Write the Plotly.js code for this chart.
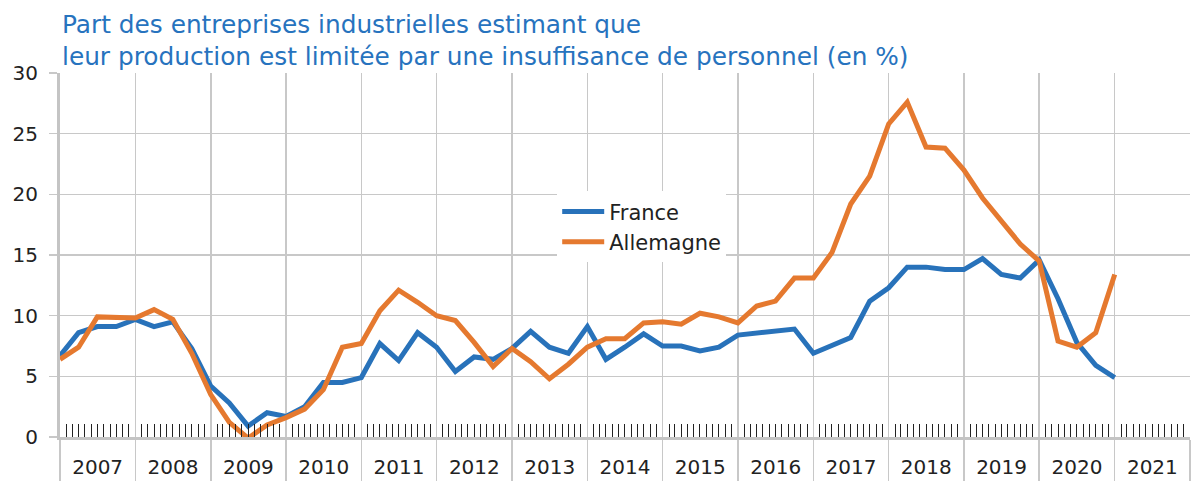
<!DOCTYPE html>
<html>
<head>
<meta charset="utf-8">
<script src="https://cdn.plot.ly/plotly-3.0.1.min.js"></script>
<style>html,body{margin:0;padding:0;background:#fff;}#chart{width:1192px;height:481px;}</style>
</head>
<body>
<div id="chart"></div>
<script>
// Quarterly observations, 2007 Q1 .. 2021 Q1
const firstYear = 2007;
const lastYear = 2021;
const quarters = [];
for (let y = firstYear; y <= lastYear; y++) {
  for (const m of ['01', '04', '07', '10']) {
    if (y === lastYear && m !== '01') continue;
    quarters.push(y + '-' + m + '-01');
  }
}
// monthly minor tick positions (Feb..Dec of each year)
const monthTicks = [];
for (let y = firstYear; y <= lastYear; y++) {
  for (let m = 2; m <= 12; m++) {
    monthTicks.push(y + '-' + String(m).padStart(2, '0') + '-01');
  }
}

const france = [
  6.7, 8.6, 9.1, 9.1, 9.7, 9.1, 9.5, 7.3,
  4.2, 2.8, 0.9, 2.0, 1.7, 2.5, 4.5, 4.5,
  4.9, 7.7, 6.3, 8.6, 7.4, 5.4, 6.6, 6.4,
  7.3, 8.7, 7.4, 6.9, 9.1, 6.4, 7.4, 8.5,
  7.5, 7.5, 7.1, 7.4, 8.4, 8.6, 8.8, 8.9,
  6.9, 7.6, 8.2, 11.2, 12.3, 14.0, 14.0, 13.8,
  13.8, 14.7, 13.4, 13.1, 14.6, 11.4, 7.8, 5.9,
  4.9
];

const allemagne = [
  6.4, 7.4, 9.9, 9.9, 9.8, 10.5, 9.7, 6.9,
  3.5, 1.2, -0.1, 1.0, 1.6, 2.3, 3.9, 7.4,
  7.7, 10.4, 12.1, 11.1, 10.0, 9.6, 7.8, 5.8,
  7.3, 6.2, 4.8, 6.0, 7.4, 8.1, 8.1, 9.4,
  9.5, 9.3, 10.2, 9.9, 9.4, 10.8, 11.2, 13.1,
  13.1, 15.2, 19.2, 21.5, 25.8, 27.6, 23.9, 23.8,
  22.0, 19.7, 17.8, 15.9, 14.5, 7.9, 7.4, 8.6,
  13.4
];

const seriesNames = ['France', 'Allemagne'];
const titleLines = [
  'Part des entreprises industrielles estimant que',
  'leur production est limitée par une insuffisance de personnel (en %)'
];

const blue = '#2872BA';
const orange = '#E5792F';
const grid = '#c8c8c8';
const font = 'DejaVu Sans, sans-serif';

const traces = [
  {x: quarters, y: france, name: seriesNames[0], type: 'scatter', mode: 'lines',
   line: {color: blue, width: 5}},
  {x: quarters, y: allemagne, name: seriesNames[1], type: 'scatter', mode: 'lines',
   line: {color: orange, width: 5}}
];

const layout = {
  width: 1192, height: 481,
  margin: {l: 60, r: 2, t: 73, b: 44},
  paper_bgcolor: '#fff', plot_bgcolor: '#fff',
  font: {family: font, color: '#222', size: 20},
  title: {
    text: titleLines.join('<br>'),
    font: {family: font, size: 24.8, color: '#2773BE'},
    x: 62 / 1192, xref: 'container', xanchor: 'left',
    y: 1 - 33 / 481, yref: 'container', yanchor: 'top'
  },
  showlegend: true,
  legend: {
    x: 0.44, y: 0.675, xanchor: 'left', yanchor: 'top',
    bgcolor: '#fff', borderwidth: 0,
    font: {family: font, size: 21, color: '#222'},
    itemwidth: 42, traceorder: 'normal'
  },
  xaxis: {
    type: 'date',
    range: [firstYear + '-01-01', (lastYear + 1) + '-01-01'],
    dtick: 'M12', tick0: firstYear + '-01-01',
    tickformat: '%Y', ticklabelmode: 'period',
    showgrid: true, gridcolor: grid, gridwidth: 1.5,
    ticks: 'outside', ticklen: 44, tickcolor: grid, tickwidth: 1.5,
    ticklabelstandoff: -34,
    tickfont: {family: font, size: 20, color: '#222'},
    showline: true, linecolor: '#c4c4c4', linewidth: 3,
    zeroline: false, fixedrange: true,
    minor: {tickmode: 'array', tickvals: monthTicks, ticks: 'inside', ticklen: 13,
            tickcolor: '#222', tickwidth: 1, showgrid: false}
  },
  yaxis: {
    range: [0, 30], dtick: 5, tick0: 0,
    showgrid: true, gridcolor: grid, gridwidth: 1.5,
    ticks: 'outside', ticklen: 8, tickcolor: grid, tickwidth: 1.5,
    ticklabelstandoff: 7,
    tickfont: {family: font, size: 20, color: '#222'},
    showline: true, linecolor: '#c4c4c4', linewidth: 3,
    zeroline: false, fixedrange: true
  }
};

Plotly.newPlot('chart', traces, layout, {displayModeBar: false, staticPlot: true});
</script>
</body>
</html>
